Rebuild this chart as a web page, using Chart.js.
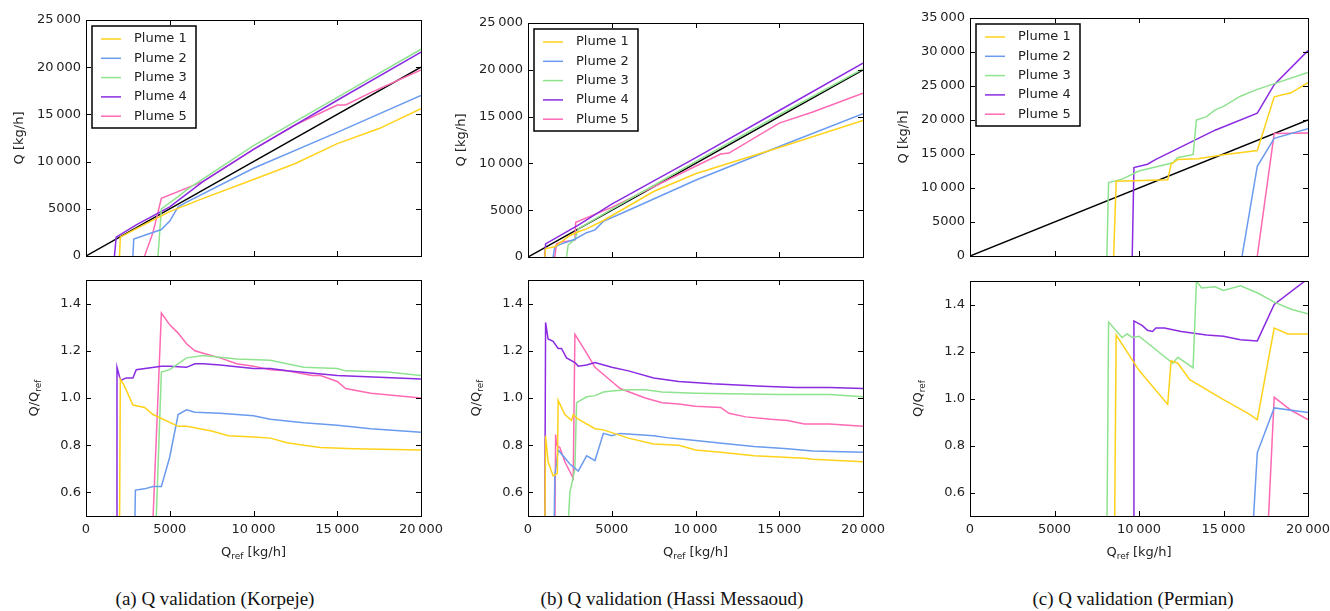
<!DOCTYPE html>
<html><head><meta charset="utf-8">
<script src="https://cdn.jsdelivr.net/npm/chart.js@4/dist/chart.umd.min.js"></script>
<style>
body{margin:0;background:#fff;width:1330px;height:611px;position:relative;overflow:hidden;font-family:"DejaVu Sans";}
.p{position:absolute;}
.cap{position:absolute;top:588px;font-family:"Liberation Serif";font-size:19px;color:#111;white-space:nowrap;transform:translateX(-50%);}
</style></head><body>
<div class="cap" style="left:215px">(a) Q validation (Korpeje)</div>
<div class="cap" style="left:672px">(b) Q validation (Hassi Messaoud)</div>
<div class="cap" style="left:1133px">(c) Q validation (Permian)</div>
<script>
// ---- data (x = Qref kg/h, y = value) ----
const labels = ["Plume 1","Plume 2","Plume 3","Plume 4","Plume 5"];
const colors = ["#FFD21A","#6A9BEF","#8FE38F","#8A2BE2","#FF69B4"];
const refLine = [[0,0],[20000,20000]];
const xTicks = [0,5000,10000,15000,20000];
const ratioTicks = [0.6,0.8,1.0,1.2,1.4];

// Korpeje
const aQ1=[[2000,0],[2050,2000],[3000,2900],[5000,4700],[7000,6100],[10000,8100],[12500,9800],[15000,11900],[17500,13500],[20000,15600]];
const aQ2=[[2800,0],[2850,1800],[4500,2800],[5000,3700],[5500,5200],[6000,5700],[10000,9300],[15000,13100],[20000,17000]];
const aQ3=[[4300,0],[4500,5000],[5500,6300],[6000,7000],[10000,11700],[15000,16800],[20000,21900]];
const aQ4=[[1700,0],[1800,2000],[3000,3300],[5000,5200],[7000,7900],[10000,11300],[15000,16500],[20000,21600]];
const aQ5=[[3500,0],[4000,2500],[4500,6100],[7000,7900],[10000,11300],[12500,13900],[15000,16000],[15500,16000],[17000,17300],[20000,19700]];
const aR1=[[2000,0.4],[2050,1.08],[2300,1.05],[2800,0.97],[3500,0.96],[4000,0.93],[5500,0.88],[6000,0.88],[7500,0.86],[8500,0.84],[10000,0.835],[11000,0.83],[12000,0.81],[13000,0.80],[14000,0.79],[16000,0.785],[20000,0.78]];
const aR2=[[2900,0.4],[2950,0.61],[3500,0.615],[4000,0.625],[4500,0.625],[5000,0.75],[5500,0.93],[6000,0.95],[6500,0.94],[8000,0.935],[10000,0.925],[11000,0.91],[13000,0.895],[15000,0.885],[17000,0.87],[20000,0.855]];
const aR3=[[4150,0.4],[4500,1.11],[5000,1.12],[6000,1.17],[7000,1.18],[9000,1.165],[11000,1.16],[13000,1.13],[15000,1.125],[15500,1.115],[18000,1.11],[20000,1.095]];
const aR4=[[1800,0.4],[1850,1.13],[2000,1.09],[2100,1.075],[2400,1.085],[2800,1.085],[3000,1.12],[4500,1.135],[5000,1.135],[6000,1.13],[6500,1.145],[7000,1.145],[8000,1.14],[10000,1.125],[11000,1.125],[12000,1.115],[15000,1.095],[20000,1.08]];
const aR5=[[3950,0.4],[4500,1.36],[5000,1.31],[5500,1.275],[6000,1.23],[6500,1.2],[7000,1.19],[8000,1.17],[9000,1.145],[10000,1.135],[11000,1.12],[12000,1.115],[13500,1.095],[14000,1.095],[15000,1.07],[15500,1.04],[17000,1.02],[20000,1.0]];

// Hassi Messaoud
const bQ1=[[1000,0],[1050,900],[1600,1100],[2500,2300],[3000,2700],[3500,3000],[4500,3900],[7500,7000],[10000,8900],[15000,11700],[20000,14600]];
const bQ2=[[1500,0],[1600,1100],[2000,1400],[2800,1900],[3500,2600],[4000,2900],[4500,3800],[6000,5000],[10000,8200],[15000,11800],[20000,15300]];
const bQ3=[[2300,0],[2400,1300],[2800,1900],[3000,3000],[5000,5100],[10000,10200],[15000,15200],[20000,20100]];
const bQ4=[[1000,0],[1050,1400],[3000,3400],[5000,5650],[10000,10600],[15000,15650],[20000,20700]];
const bQ5=[[1600,0],[1700,1400],[2000,1600],[2800,1800],[2850,3700],[5000,5300],[10000,9700],[11500,11000],[12000,11100],[15000,14300],[17000,15500],[20000,17500]];
const bR1=[[1000,0.4],[1050,0.84],[1200,0.73],[1500,0.67],[1750,0.68],[1800,0.99],[2200,0.93],[2600,0.905],[2700,0.93],[3000,0.91],[4000,0.87],[4500,0.865],[6000,0.83],[7500,0.805],[9000,0.80],[10000,0.78],[11500,0.77],[13500,0.755],[16500,0.745],[17000,0.74],[20000,0.73]];
const bR2=[[1550,0.4],[1600,0.67],[1800,0.78],[2500,0.72],[3000,0.69],[3500,0.755],[4000,0.735],[4500,0.85],[5000,0.84],[5500,0.85],[7500,0.84],[8500,0.83],[10000,0.82],[12000,0.805],[13500,0.795],[15500,0.785],[17000,0.775],[20000,0.77]];
const bR3=[[2350,0.4],[2500,0.6],[2800,0.7],[2900,0.98],[3500,1.005],[4000,1.01],[4500,1.025],[5000,1.03],[6000,1.035],[7000,1.035],[8000,1.025],[10000,1.02],[15000,1.015],[18000,1.015],[20000,1.005]];
const bR4=[[1000,0.4],[1050,1.32],[1200,1.25],[1500,1.24],[1800,1.21],[2000,1.21],[2300,1.17],[2800,1.15],[3000,1.135],[3500,1.14],[4000,1.15],[5000,1.13],[6000,1.115],[7500,1.085],[9000,1.07],[11000,1.06],[14000,1.05],[16000,1.045],[18000,1.045],[20000,1.04]];
const bR5=[[1600,0.4],[1650,0.845],[1700,0.8],[1900,0.79],[2200,0.73],[2700,0.66],[2800,1.27],[3500,1.19],[4000,1.13],[5000,1.07],[5500,1.04],[7000,1.00],[8000,0.98],[9000,0.975],[10000,0.965],[11500,0.96],[12000,0.935],[13000,0.92],[14500,0.91],[15500,0.905],[16500,0.89],[18000,0.89],[20000,0.88]];

// Permian
const cQ1=[[8500,0],[8650,11000],[11700,11200],[11900,13500],[12300,14200],[13500,14300],[15000,14900],[17000,15500],[18000,23400],[19000,24000],[20000,25500]];
const cQ2=[[16100,0],[17000,13200],[18000,17300],[20000,18700]];
const cQ3=[[8100,0],[8200,10800],[9000,11300],[10000,12500],[12000,13700],[12300,14500],[13200,14900],[13400,20000],[14000,20500],[14500,21500],[15000,22000],[16000,23500],[17000,24500],[20000,27000]];
const cQ4=[[9600,0],[9700,13000],[10500,13500],[11000,14200],[14500,18500],[17000,21000],[18000,25200],[20000,30200]];
const cQ5=[[17000,0],[18000,18000],[20000,18100]];
const cR1=[[8550,0.4],[8650,1.27],[10000,1.12],[11700,0.975],[11900,1.16],[12300,1.15],[13000,1.08],[15000,0.995],[16500,0.935],[17000,0.91],[18000,1.3],[18800,1.275],[20000,1.275]];
const cR2=[[16700,0.4],[17000,0.77],[18000,0.96],[20000,0.94]];
const cR3=[[8100,0.4],[8200,1.325],[9000,1.26],[9300,1.275],[9600,1.26],[10000,1.265],[12000,1.15],[12300,1.175],[13200,1.13],[13400,1.5],[13700,1.47],[14500,1.475],[15000,1.46],[16000,1.48],[17000,1.45],[18000,1.41],[19000,1.38],[20000,1.36]];
const cR4=[[9650,0.4],[9700,1.33],[10200,1.31],[10500,1.29],[10800,1.285],[11000,1.3],[11500,1.3],[12500,1.285],[14000,1.27],[15000,1.265],[16000,1.25],[17000,1.245],[18000,1.4],[20000,1.51]];
const cR5=[[17600,0.4],[18000,1.005],[19000,0.95],[20000,0.91]];

const fmt = v => { const s=String(Math.round(v)); return s.length>4 ? s.slice(0,-3)+"\u2009"+s.slice(-3) : s; };

const deco = {
  id:'deco',
  afterDraw(c){
    const o=c.options.plugins.deco, a=c.chartArea, x=c.ctx, sx=c.scales.x, sy=c.scales.y;
    x.save(); x.strokeStyle='#000'; x.lineWidth=1;
    x.beginPath();
    sx.ticks.forEach(t=>{const p=Math.round(sx.getPixelForValue(t.value))+0.5; x.moveTo(p,a.top);x.lineTo(p,a.top+5);x.moveTo(p,a.bottom);x.lineTo(p,a.bottom-5);});
    sy.ticks.forEach(t=>{const p=Math.round(sy.getPixelForValue(t.value))+0.5; x.moveTo(a.left,p);x.lineTo(a.left+5,p);x.moveTo(a.right,p);x.lineTo(a.right-5,p);});
    x.stroke();
    x.strokeRect(a.left+0.5,a.top+0.5,a.right-a.left,a.bottom-a.top);
    x.fillStyle='#222';
    const sub=(s1,s2,s3,px,py)=>{
      x.font='13px "DejaVu Sans"'; const w1=x.measureText(s1).width, w3=x.measureText(s3).width;
      x.font='9px "DejaVu Sans"'; const w2=x.measureText(s2).width;
      let st=px-(w1+w2+w3)/2; x.textBaseline='alphabetic'; x.textAlign='left';
      x.font='13px "DejaVu Sans"'; x.fillText(s1,st,py);
      x.font='9px "DejaVu Sans"'; x.fillText(s2,st+w1,py+3);
      x.font='13px "DejaVu Sans"'; x.fillText(s3,st+w1+w2,py);
    };
    if(o.bottom){
      sub("Q","ref"," [kg/h]",(a.left+a.right)/2,a.bottom+40);
      x.save(); x.translate(a.left-o.ytx,(a.top+a.bottom)/2); x.rotate(-Math.PI/2); sub("Q/Q","ref","",0,0); x.restore();
    } else {
      x.save(); x.translate(a.left-o.ytx,(a.top+a.bottom)/2); x.rotate(-Math.PI/2); sub("Q [kg/h]","","",0,0); x.restore();
      const lx=a.left+6, ly=a.top+6, w=104, h=102;
      x.fillStyle='#fff'; x.fillRect(lx,ly,w,h); x.lineWidth=1.5; x.strokeStyle='#000'; x.strokeRect(lx,ly,w,h);
      x.font='13px "DejaVu Sans"'; x.textBaseline='middle'; x.textAlign='left';
      labels.forEach((l,i)=>{const yy=ly+13+i*19.3; x.strokeStyle=colors[i]; x.lineWidth=1.5; x.beginPath(); x.moveTo(lx+9,yy); x.lineTo(lx+29,yy); x.stroke(); x.fillStyle='#222'; x.fillText(l,lx+42,yy);});
    }
    x.restore();
  }
};
Chart.register(deco);

function panel(L,R,T,B,series,yMax,yStep,bottom,ytx){
  const padT=12,padR=22,yW=82,xH=bottom?52:8;
  const d=document.createElement('div'); d.className='p';
  d.style.left=(L-yW)+'px'; d.style.top=(T-padT)+'px';
  d.style.width=(R-L+yW+padR)+'px'; d.style.height=(B-T+padT+xH)+'px';
  const cv=document.createElement('canvas'); d.appendChild(cv); document.body.appendChild(d);
  const ds=series.map((s,i)=>({label:labels[i],data:s.map(p=>({x:p[0],y:p[1]})),borderColor:colors[i],borderWidth:1.5,pointRadius:0,tension:0}));
  if(!bottom) ds.push({label:'ref',data:refLine.map(p=>({x:p[0],y:p[1]})),borderColor:'#000',borderWidth:1.5,pointRadius:0});
  new Chart(cv,{type:'line',data:{datasets:ds},options:{
    responsive:true,maintainAspectRatio:false,animation:false,
    layout:{padding:{top:padT,right:padR,left:0,bottom:0}},
    plugins:{legend:{display:false},tooltip:{enabled:false},deco:{bottom,ytx}},
    scales:{
      x:{type:'linear',min:0,max:20000,grid:{display:false,drawTicks:false},border:{display:false},
        afterBuildTicks:s=>{s.ticks=xTicks.map(v=>({value:v}));},
        afterFit:s=>{s.height=xH;s.paddingLeft=0;s.paddingRight=0;s.paddingTop=0;s.paddingBottom=0;},
        ticks:{display:bottom,padding:6,color:'#222',font:{family:'DejaVu Sans',size:13},callback:v=>fmt(v),maxRotation:0}},
      y:{type:'linear',min:bottom?0.5:0,max:bottom?1.5:yMax,grid:{display:false,drawTicks:false},border:{display:false},
        afterBuildTicks:s=>{s.ticks=bottom?ratioTicks.map(v=>({value:v})):Array.from({length:yMax/yStep+1},(_,k)=>({value:k*yStep}));},
        afterFit:s=>{s.width=yW;s.paddingLeft=0;s.paddingRight=0;s.paddingTop=0;s.paddingBottom=0;},
        ticks:{padding:5,color:'#222',font:{family:'DejaVu Sans',size:13},callback:v=>bottom?v.toFixed(1):fmt(v)}}
    }}});
}
panel(86,421,20,256,[aQ1,aQ2,aQ3,aQ4,aQ5],25000,5000,false,63);
panel(86,421,280,516,[aR1,aR2,aR3,aR4,aR5],0,0,true,48);
panel(528,863,23,257,[bQ1,bQ2,bQ3,bQ4,bQ5],25000,5000,false,63);
panel(528,863,280,516,[bR1,bR2,bR3,bR4,bR5],0,0,true,48);
panel(970,1308,18,256,[cQ1,cQ2,cQ3,cQ4,cQ5],35000,5000,false,63);
panel(970,1308,281,516,[cR1,cR2,cR3,cR4,cR5],0,0,true,48);
</script></body></html>
